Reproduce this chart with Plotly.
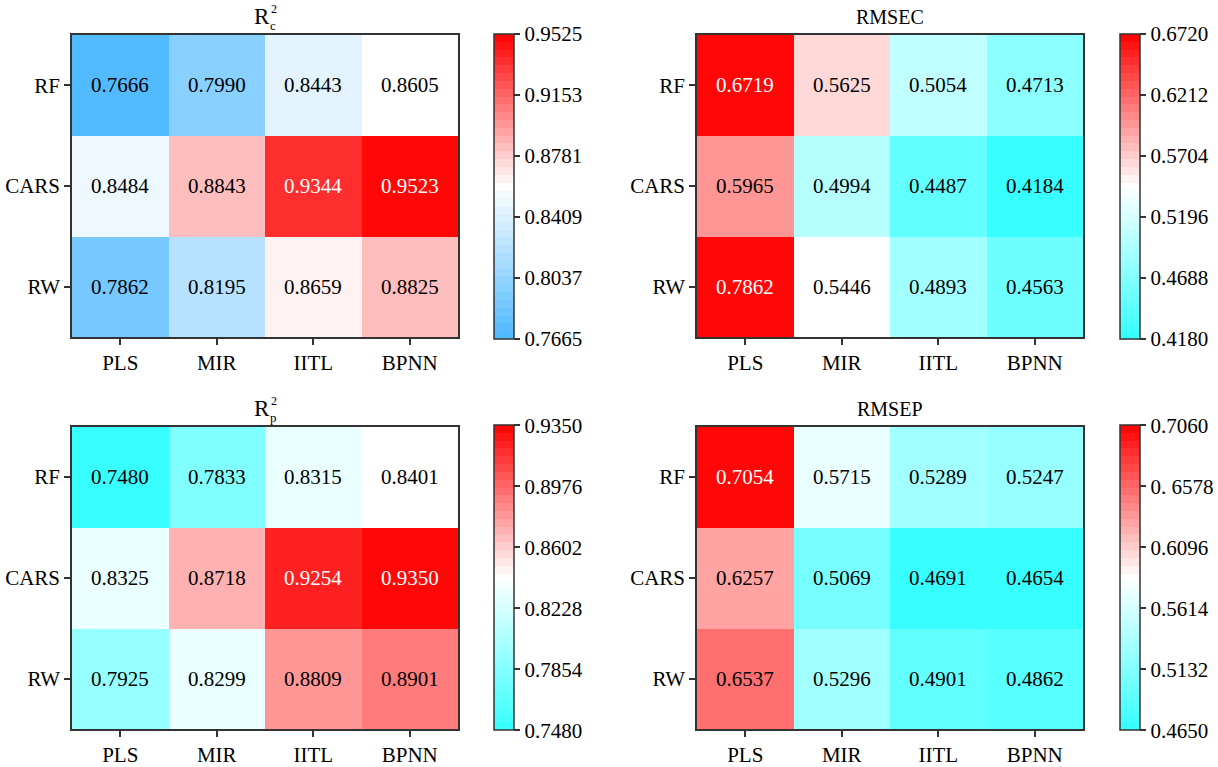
import plotly.graph_objects as go

models = ["PLS", "MIR", "IITL", "BPNN"]
methods = ["RF", "CARS", "RW"]

rc2 = [[0.7666, 0.7990, 0.8443, 0.8605],
       [0.8484, 0.8843, 0.9344, 0.9523],
       [0.7862, 0.8195, 0.8659, 0.8825]]
rmsec = [[0.6719, 0.5625, 0.5054, 0.4713],
         [0.5965, 0.4994, 0.4487, 0.4184],
         [0.7862, 0.5446, 0.4893, 0.4563]]
rp2 = [[0.7480, 0.7833, 0.8315, 0.8401],
       [0.8325, 0.8718, 0.9254, 0.9350],
       [0.7925, 0.8299, 0.8809, 0.8901]]
rmsep = [[0.7054, 0.5715, 0.5289, 0.5247],
         [0.6257, 0.5069, 0.4691, 0.4654],
         [0.6537, 0.5296, 0.4901, 0.4862]]

# colour bar limits and tick labels for each panel
rc2_range = (0.7665, 0.9525)
rmsec_range = (0.4180, 0.6720)
rp2_range = (0.7480, 0.9350)
rmsep_range = (0.4650, 0.7060)
rc2_ticks = ["0.7665", "0.8037", "0.8409", "0.8781", "0.9153", "0.9525"]
rmsec_ticks = ["0.4180", "0.4688", "0.5196", "0.5704", "0.6212", "0.6720"]
rp2_ticks = ["0.7480", "0.7854", "0.8228", "0.8602", "0.8976", "0.9350"]
rmsep_ticks = ["0.4650", "0.5132", "0.5614", "0.6096", "0. 6578", "0.7060"]

BLUE = (77, 184, 255)
CYAN = (51, 255, 255)
RED = (255, 0, 0)
FONT = "Liberation Serif"
N_STEPS = 39


def mix(c1, c2, t):
    return tuple(round(a + (b - a) * t) for a, b in zip(c1, c2))


def colour_at(low, t):
    if t <= 0.5:
        return mix(low, (255, 255, 255), t / 0.5)
    return mix((255, 255, 255), RED, (t - 0.5) / 0.5)


def stepped_scale(low):
    scale = []
    for i in range(N_STEPS):
        c = colour_at(low, (i + 0.5) / N_STEPS)
        col = "rgb(%d,%d,%d)" % c
        scale.append([i / N_STEPS, col])
        scale.append([(i + 1) / N_STEPS, col])
    return scale


fig = go.Figure()

panels = [
    dict(z=rc2, rng=rc2_range, ticks=rc2_ticks, low=BLUE, title=("R", "2", "c")),
    dict(z=rmsec, rng=rmsec_range, ticks=rmsec_ticks, low=CYAN, title="RMSEC"),
    dict(z=rp2, rng=rp2_range, ticks=rp2_ticks, low=CYAN, title=("R", "2", "p")),
    dict(z=rmsep, rng=rmsep_range, ticks=rmsep_ticks, low=CYAN, title="RMSEP"),
]

W, H = 1218, 767
xdoms = [(72 / W, 458 / W), (697 / W, 1083 / W)]
ydoms = [((H - 340) / H, (H - 35) / H), ((H - 735) / H, (H - 430) / H)]
cb_x = [494 / W, 1120 / W]

annotations = []
for k, p in enumerate(panels):
    row, col = divmod(k, 2)
    ax = "" if k == 0 else str(k + 1)
    zmin, zmax = p["rng"]
    tickvals = [zmin + (zmax - zmin) * i / 5 for i in range(6)]
    fig.add_trace(go.Heatmap(
        z=p["z"], x=models, y=methods,
        zmin=zmin, zmax=zmax,
        colorscale=stepped_scale(p["low"]),
        xaxis="x" + ax, yaxis="y" + ax,
        xgap=0, ygap=0, hoverinfo="skip",
        colorbar=dict(
            x=cb_x[col], xanchor="left", xpad=0,
            y=(ydoms[row][0] + ydoms[row][1]) / 2, yanchor="middle",
            len=305, lenmode="pixels", thickness=20, thicknessmode="pixels",
            ypad=0, outlinecolor="#333", outlinewidth=1.5,
            tickmode="array", tickvals=tickvals, ticktext=p["ticks"],
            ticks="outside", ticklen=6, tickwidth=1.5, tickcolor="#333",
            tickfont=dict(family=FONT, size=21, color="black"),
        ),
    ))
    fig.layout["xaxis" + ax] = dict(
        domain=xdoms[col], anchor="y" + ax, showgrid=False, zeroline=False,
        showline=True, mirror=True, linecolor="#333", linewidth=1.5,
        ticks="outside", ticklen=6, tickwidth=1.5, tickcolor="#333",
        tickfont=dict(family=FONT, size=21, color="black"),
    )
    fig.layout["yaxis" + ax] = dict(
        domain=ydoms[row], anchor="x" + ax, showgrid=False, zeroline=False,
        showline=True, mirror=True, linecolor="#333", linewidth=1.5,
        ticks="outside", ticklen=6, tickwidth=1.5, tickcolor="#333",
        autorange="reversed",
        tickfont=dict(family=FONT, size=21, color="black"),
    )
    # cell value labels
    for i, m in enumerate(methods):
        for j, mdl in enumerate(models):
            v = p["z"][i][j]
            t = (v - zmin) / (zmax - zmin)
            annotations.append(dict(
                x=mdl, y=m, xref="x" + ax, yref="y" + ax,
                text="%.4f" % v, showarrow=False,
                font=dict(family=FONT, size=21,
                          color="white" if t > 0.8 else "black"),
            ))
    # panel title (stacked super/subscript for R²)
    cx_px = (xdoms[col][0] + xdoms[col][1]) / 2 * W
    top_px = H - ydoms[row][1] * H
    if isinstance(p["title"], tuple):
        base, sup, sub = p["title"]
        pieces = [(base, cx_px - 3, top_px - 5, 23),
                  (sup, cx_px + 9, top_px - 18, 12),
                  (sub, cx_px + 8, top_px - 1, 13)]
        for txt, px, py, sz in pieces:
            annotations.append(dict(x=px / W, y=1 - py / H, xref="paper", yref="paper",
                                    xanchor="center", yanchor="bottom", showarrow=False,
                                    borderpad=0,
                                    text=txt, font=dict(family=FONT, size=sz, color="black")))
    else:
        annotations.append(dict(x=cx_px / W, y=1 - (top_px - 5) / H, xref="paper", yref="paper",
                                xanchor="center", yanchor="bottom", showarrow=False,
                                text=p["title"], font=dict(family=FONT, size=20, color="black")))

fig.update_layout(
    width=W, height=H,
    margin=dict(l=0, r=0, t=0, b=0),
    paper_bgcolor="white", plot_bgcolor="white",
    annotations=annotations,
    showlegend=False,
)

fig.write_html("out.html")
